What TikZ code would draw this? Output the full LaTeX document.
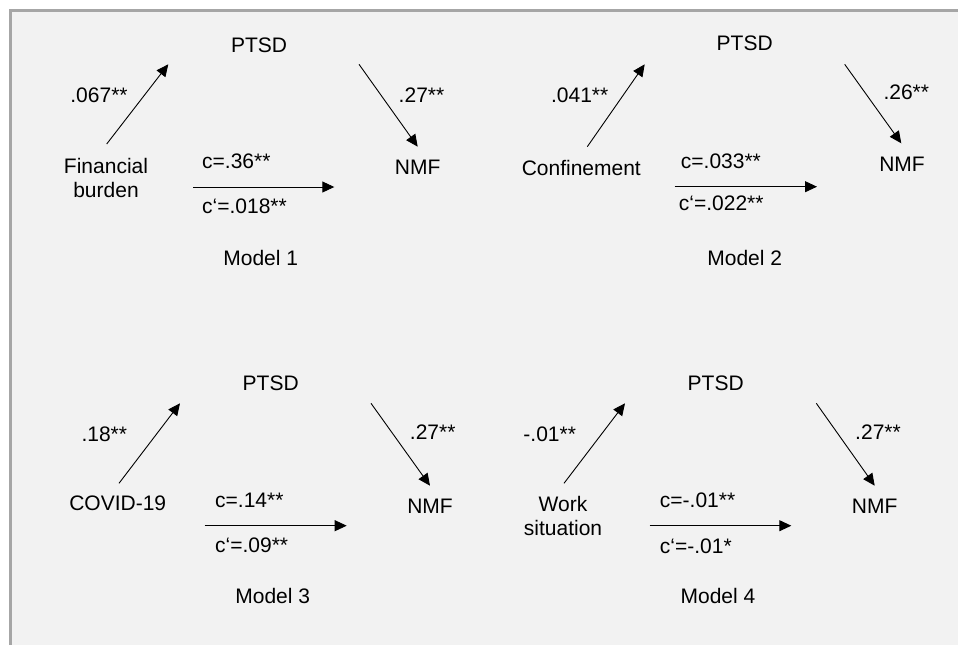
\documentclass[tikz,border=0pt]{standalone}
\usepackage{fontspec}
\setmainfont{Liberation Sans}
\usetikzlibrary{arrows.meta}
\definecolor{panelgray}{HTML}{F2F2F2}
\definecolor{framegray}{HTML}{A6A6A6}

\begin{document}
\begin{tikzpicture}[x=1pt,y=-1pt,
  every node/.style={inner sep=0pt,font=\fontsize{21}{24}\selectfont},
  effect/.style={line width=0.9pt,-{Triangle[length=12pt,width=11pt]}}]
\useasboundingbox (0,0) rectangle (958,645);
\fill[panelgray] (10,10) rectangle (958,645);
\draw[framegray,line width=2.4pt] (10.5,645) -- (10.5,10.5) -- (958,10.5);

% Model 1
\node (ptsd1) at (259,45) {PTSD};
\node (nmf1) at (417.7,167.7) {NMF};
\node[align=center] (fin) at (106,178) {Financial\\burden};
\node (mod1) at (260.7,257.7) {Model 1};
\coordinate (a1s) at (106.7,144);
\coordinate (a1e) at (168.3,64.3);
\coordinate (b1s) at (359,64.3);
\coordinate (b1e) at (417.7,146.7);
\coordinate (c1s) at (193,187);
\coordinate (c1e) at (334.3,187);
\draw[effect] (a1s) -- (a1e);
\draw[effect] (b1s) -- (b1e);
\draw[effect] (c1s) -- (c1e);
\node (a1) at (99,95.7) {.067**};
\node (b1) at (421.5,95) {.27**};
\node[anchor=west] (c1) at (202,161) {c=.36**};
\node[anchor=west] (cp1) at (202,206) {c‘=.018**};

% Model 2
\node (ptsd2) at (744.7,43.3) {PTSD};
\node (nmf2) at (902,164) {NMF};
\node (conf) at (581.3,167.7) {Confinement};
\node (mod2) at (744.7,257.7) {Model 2};
\coordinate (a2s) at (587.3,146.7);
\coordinate (a2e) at (644.7,64.3);
\coordinate (b2s) at (844.7,64.3);
\coordinate (b2e) at (901.3,143.3);
\coordinate (c2s) at (674.7,186.7);
\coordinate (c2e) at (817,186.7);
\draw[effect] (a2s) -- (a2e);
\draw[effect] (b2s) -- (b2e);
\draw[effect] (c2s) -- (c2e);
\node (a2) at (579.7,95.7) {.041**};
\node (b2) at (906.3,92.7) {.26**};
\node[anchor=west] (c2) at (680.7,161.7) {c=.033**};
\node[anchor=west] (cp2) at (678.7,203.3) {c‘=.022**};

% Model 3
\node (ptsd3) at (270.7,383.3) {PTSD};
\node (nmf3) at (430,506) {NMF};
\node (covid) at (117.7,503.3) {COVID-19};
\node (mod3) at (272.7,595.7) {Model 3};
\coordinate (a3s) at (119,483.3);
\coordinate (a3e) at (180,403.3);
\coordinate (b3s) at (371,403.3);
\coordinate (b3e) at (430,485.7);
\coordinate (c3s) at (204.7,525.7);
\coordinate (c3e) at (346.7,525.7);
\draw[effect] (a3s) -- (a3e);
\draw[effect] (b3s) -- (b3e);
\draw[effect] (c3s) -- (c3e);
\node (a3) at (104.3,434) {.18**};
\node (b3) at (432.7,431.7) {.27**};
\node[anchor=west] (c3) at (215,500) {c=.14**};
\node[anchor=west] (cp3) at (215,545.7) {c‘=.09**};

% Model 4
\node (ptsd4) at (715.7,383.3) {PTSD};
\node (nmf4) at (874.7,506) {NMF};
\node[align=center] (work) at (563,516) {Work\\situation};
\node (mod4) at (718,595.7) {Model 4};
\coordinate (a4s) at (564,483.3);
\coordinate (a4e) at (625,403.3);
\coordinate (b4s) at (816.3,403.3);
\coordinate (b4e) at (874.7,485.7);
\coordinate (c4s) at (649.7,525.7);
\coordinate (c4e) at (791.3,525.7);
\draw[effect] (a4s) -- (a4e);
\draw[effect] (b4s) -- (b4e);
\draw[effect] (c4s) -- (c4e);
\node (a4) at (549.7,434.3) {-.01**};
\node (b4) at (878,431.7) {.27**};
\node[anchor=west] (c4) at (659.7,500) {c=-.01**};
\node[anchor=west] (cp4) at (659.7,546) {c‘=-.01*};
\end{tikzpicture}
\end{document}
